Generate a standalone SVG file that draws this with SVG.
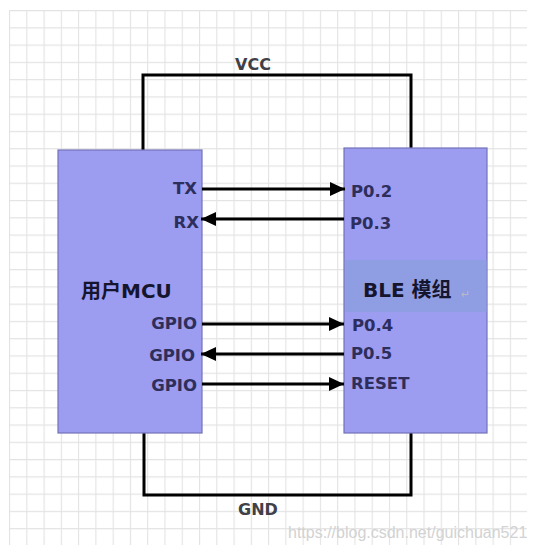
<svg xmlns="http://www.w3.org/2000/svg" width="533" height="552" viewBox="0 0 533 552">
<style>
.box{fill:#9c9cf0;stroke:#7272b8;stroke-width:1.2}
.pin{font-family:"DejaVu Sans","Noto Sans CJK SC",sans-serif;font-weight:bold;font-size:16.5px;fill:#2e2e5c}
.title{font-family:"DejaVu Sans","Noto Sans CJK SC",sans-serif;font-weight:bold;font-size:20px;fill:#15152e}
.net{font-family:"DejaVu Sans",sans-serif;font-weight:bold;font-size:16px;fill:#404048}
.wire{fill:none;stroke:#000;stroke-width:3}
.sig{fill:none;stroke:#000;stroke-width:3}
.wm{font-family:"Liberation Sans",Arial,sans-serif;font-size:16px;fill:#d2d2d2}
</style>
<defs>
<pattern id="grid" x="9" y="10" width="17.27" height="17.27" patternUnits="userSpaceOnUse">
<path d="M0,0.5 H17.27 M0.5,0 V17.27" fill="none" stroke="#e3e3e3" stroke-width="1.2"/>
</pattern>
<marker id="ah" markerUnits="userSpaceOnUse" markerWidth="16" markerHeight="14" refX="15" refY="7" orient="auto">
<path d="M0,0 L15,7 L0,14 Z" fill="#000"/>
</marker>
</defs>
<rect width="533" height="552" fill="#fff"/>
<rect x="9" y="10" width="518" height="535" fill="url(#grid)"/>
<g id="connectors">
<path id="vcc" class="wire" d="M143,150 V75 H411 V148"/>
<path id="gnd" class="wire" d="M144,433 V495 H411 V433"/>
</g>
<g id="mcu">
<rect class="box" x="58" y="150" width="144" height="283"/>
<text class="title" x="81" y="298">用户MCU</text>
<text class="pin" x="197" y="194" text-anchor="end">TX</text>
<text class="pin" x="199" y="228" text-anchor="end">RX</text>
<text class="pin" x="197" y="329" text-anchor="end">GPIO</text>
<text class="pin" x="195" y="361" text-anchor="end">GPIO</text>
<text class="pin" x="197" y="391" text-anchor="end">GPIO</text>
</g>
<g id="ble">
<rect class="box" x="344" y="148" width="143" height="285"/>
<rect x="345" y="260" width="141.5" height="52" fill="#8f9de2"/>
<text class="title" x="363" y="297" font-size="21.5">BLE 模组</text>
<text x="461" y="298" font-family="DejaVu Sans,sans-serif" font-size="11" fill="#b8b8c8">↵</text>
<text class="pin" x="351" y="197">P0.2</text>
<text class="pin" x="350" y="229">P0.3</text>
<text class="pin" x="352" y="331">P0.4</text>
<text class="pin" x="351" y="359">P0.5</text>
<text class="pin" x="351" y="389">RESET</text>
</g>
<g id="signals">
<line class="sig" x1="202" y1="189" x2="345" y2="189" marker-end="url(#ah)"/>
<line class="sig" x1="344" y1="219" x2="201" y2="219" marker-end="url(#ah)"/>
<line class="sig" x1="202" y1="324" x2="344" y2="324" marker-end="url(#ah)"/>
<line class="sig" x1="344" y1="354" x2="201" y2="354" marker-end="url(#ah)"/>
<line class="sig" x1="202" y1="384" x2="344" y2="384" marker-end="url(#ah)"/>
</g>
<g id="labels">
<text class="net" x="253" y="70" text-anchor="middle">VCC</text>
<text class="net" x="258" y="515" text-anchor="middle">GND</text>
</g>
<text class="wm" x="288" y="538">https://blog.csdn.net/guichuan521</text>
</svg>
